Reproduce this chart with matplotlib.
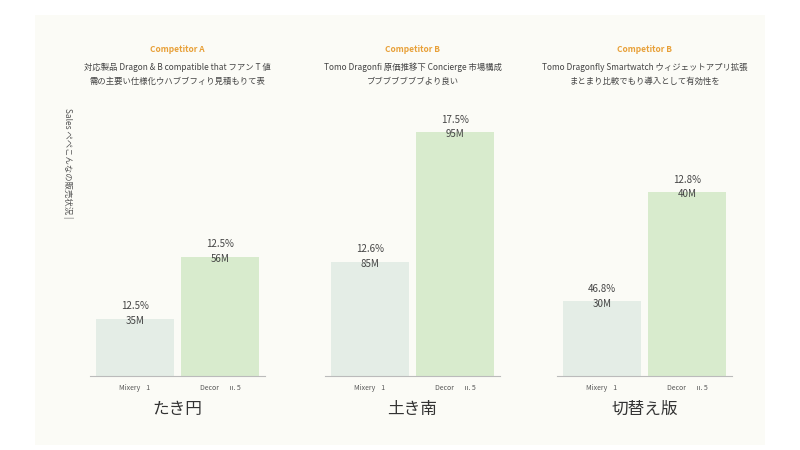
import matplotlib
matplotlib.use("Agg")
import matplotlib.pyplot as plt
from matplotlib.patches import Rectangle

plt.rcParams['font.family'] = ['Noto Sans CJK JP', 'DejaVu Sans']

# ---- data ----
competitors = ["Competitor A", "Competitor B", "Competitor B"]
subtitles = [
    "対応製品 Dragon & B compatible that フアン T 値\n需の主要い仕様化ウハブブフィり見積もりて表",
    "Tomo Dragonfi 原価推移下 Concierge 市場構成\nブブブブブブブより良い",
    "Tomo Dragonfly Smartwatch ウィジェットアプリ拡張\nまとまり比較でもり導入として有効性を",
]
categories = ["Mixery    1", "Decor       ıı. 5"]
values = [
    [23, 48],
    [46, 98],
    [30, 74],
]
pct_labels = [
    ["12.5%", "12.5%"],
    ["12.6%", "17.5%"],
    ["46.8%", "12.8%"],
]
amount_labels = [
    ["35M", "56M"],
    ["85M", "95M"],
    ["30M", "40M"],
]
xlabels = ["たき円", "土き南", "切替え版"]
ylabel = "Sales ぺぺこんなの販売状況 |"

bar_colors = ["#e4ede6", "#d8ebcd"]

fig = plt.figure(figsize=(8, 4.5), dpi=100)
fig.patch.set_facecolor("white")
fig.add_artist(Rectangle((35/800, 5/450), 730/800, 430/450, transform=fig.transFigure,
                         facecolor="#fbfbf6", edgecolor="none", zorder=-10))

lefts = [90, 325, 557]
for i in range(3):
    ax = fig.add_axes([lefts[i]/800, 1-376/450, 175/800, 266/450])
    ax.set_facecolor("none")
    xs = list(range(len(categories)))
    bars = ax.bar(xs, values[i], width=0.92, color=bar_colors)
    ax.set_xlim(-0.53, 1.53)
    ax.set_ylim(0, 107)
    for s in ["top", "right", "left"]:
        ax.spines[s].set_visible(False)
    ax.spines["bottom"].set_color("#bbbbbb")
    ax.spines["bottom"].set_linewidth(0.8)
    ax.set_yticks([])
    ax.set_xticks(xs)
    ax.set_xticklabels(categories, fontsize=5, color="#555555")
    ax.tick_params(axis="x", length=0, pad=6)
    for j, b in enumerate(bars):
        ax.annotate(pct_labels[i][j], (b.get_x() + b.get_width()/2, b.get_height()),
                    xytext=(0, 9), textcoords="offset points", ha="center", va="center",
                    fontsize=7, color="#444444")
        ax.annotate(amount_labels[i][j], (b.get_x() + b.get_width()/2, b.get_height()),
                    xytext=(0, -1.5), textcoords="offset points", ha="center", va="center",
                    fontsize=7, color="#444444")
    ax.set_xlabel(xlabels[i], fontsize=12, color="#333333", labelpad=6)
    cx = (lefts[i] + 87.5) / 800
    fig.text(cx, 1-50/450, competitors[i], ha="center", va="center",
             fontsize=6, color="#e8a038", fontweight="bold")
    fig.text(cx, 1-74/450, subtitles[i], ha="center", va="center",
             fontsize=6, color="#444444", linespacing=1.7)

fig.text(68/800, 1-163/450, ylabel, rotation=270, ha="center", va="center",
         fontsize=6, color="#555555")

fig.savefig("out.png", dpi=100)
